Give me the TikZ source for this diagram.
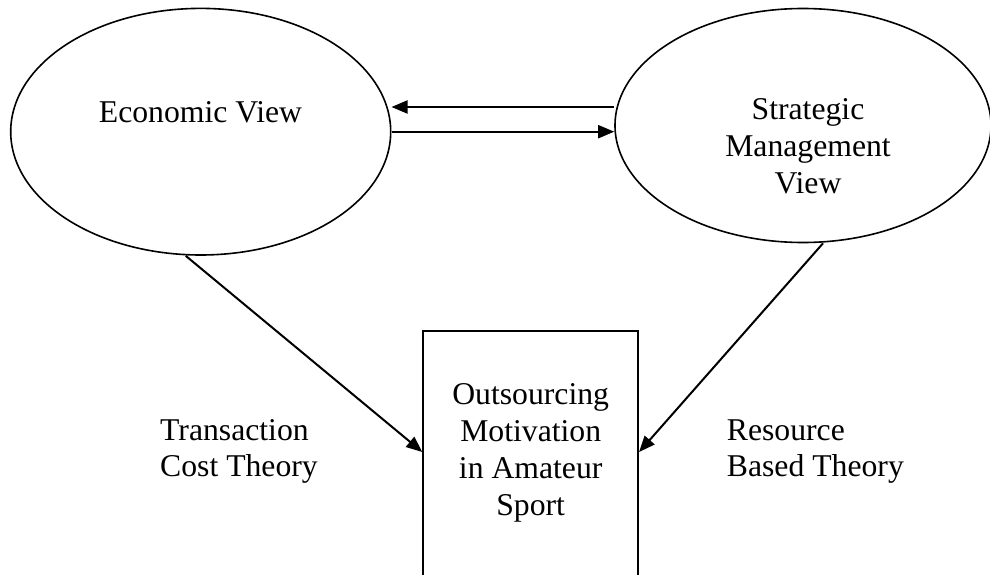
\documentclass[tikz,border=0pt]{standalone}
\usepackage{fontspec}
\setmainfont{Liberation Serif}
\usetikzlibrary{shapes.geometric,arrows.meta}
\begin{document}
\begin{tikzpicture}[x=1pt,y=1pt,
  view/.style={draw,ellipse,line width=1.6pt,inner sep=0pt},
  goalbox/.style={draw,rectangle,line width=1.8pt,inner sep=0pt},
  link/.style={line width=2pt,-{Triangle[length=16pt,width=13pt]}}]
\fontsize{31.7}{36.7}\selectfont
\clip (0,0) rectangle (990,574);
% the two views
\node[view,minimum width=380,minimum height=246.6] (econ) at (200.7,442.3) {};
\node[view,minimum width=376,minimum height=234] (strat) at (803,448.5) {};
\node[anchor=base] (econtxt) at (200.5,451.3) {Economic View};
\node[anchor=base,align=center] (strattxt) at (808,380.7) {Strategic\\Management\\View};
% the outsourcing box
\node[goalbox,anchor=north,minimum width=215,minimum height=300] (goal) at (530.7,244) {};
\node[anchor=base,align=center] (goaltxt) at (530.7,59) {Outsourcing\\Motivation\\in Amateur\\Sport};
% theories
\node[anchor=base west,align=left,inner sep=0pt] (tct) at (160,97.3) {Transaction\\Cost Theory};
\node[anchor=base west,align=left,inner sep=0pt] (rbt) at (726.7,97.3) {Resource\\Based Theory};
% arrows
\draw[link] ([yshift=18.5]strat.west) -- ([yshift=18.5]strat.west -| econ.east);
\draw[link] (econ.east) -- (econ.east -| strat.west);
\draw[link] ([xshift=-15]econ.south) -- ([yshift=-122]goal.north west);
\draw[link] ([xshift=20]strat.south) -- ([yshift=-122]goal.north east);
\end{tikzpicture}
\end{document}
